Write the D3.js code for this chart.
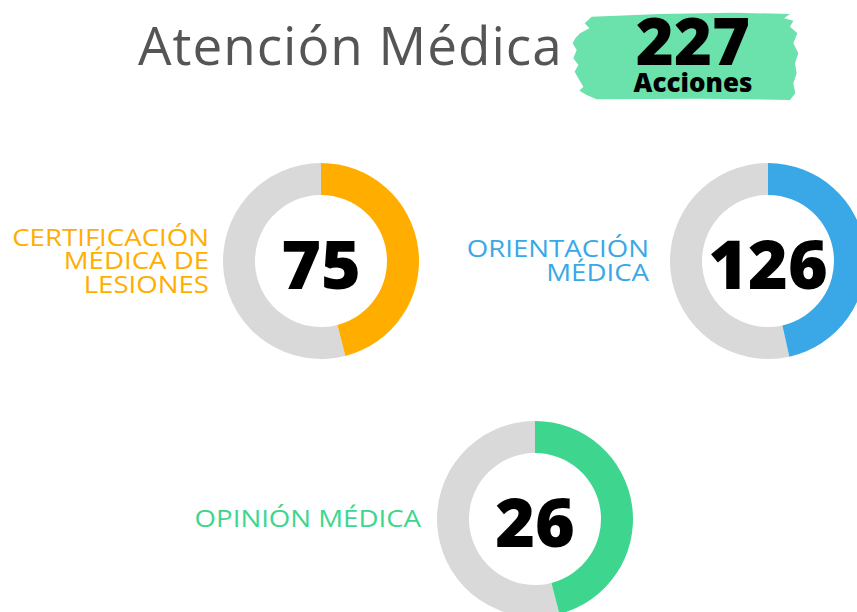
<!DOCTYPE html>
<html>
<head>
<meta charset="utf-8">
<script src="https://cdn.jsdelivr.net/npm/d3@7"></script>
<style>
  body { margin: 0; background: #fff; }
  svg { display: block; font-family: 'Open Sans', sans-serif; }
</style>
</head>
<body>
<div class="chart"></div>
<script>
// Atención Médica - donut summary

const TITLE = 'Atención Médica'
const TOTAL = 227
const TOTAL_LABEL = 'Acciones'

// one entry per donut
const NAMES = [
    ['CERTIFICACIÓN', 'MÉDICA DE', 'LESIONES'],
    ['ORIENTACIÓN', 'MÉDICA'],
    ['OPINIÓN MÉDICA'],
]
const VALUES = [75, 126, 26]
const FILLED = [0.46, 0.465, 0.46]   // share of ring painted
const COLORS = ['#FFAE00', '#3AA8E6', '#3ED68F']

// layout (not data)
const CENTERS = [[321, 261], [768, 261], [535, 519]]
const LABEL_DX = [-112, -119, -114]
const OUTER = 98
const INNER = 66

var svgWidth = 857
var svgHeight = 612

var svg = d3.select('.chart')
    .append('svg')
    .attr('width', svgWidth)
    .attr('height', svgHeight)

// Title
svg.append('text')
    .attr('x', 138)
    .attr('y', 65)
    .attr('font-size', '53px')
    .attr('letter-spacing', '1px')
    .attr('fill', '#555555')
    .text(TITLE)

// Badge with brush stroke
var badge = svg.append('g').attr('transform', 'translate(560, 0)')
var brush = [
    [95, 50], [300, 42], [520, 38], [690, 42], [672, 55], [700, 62], [690, 80],
    [712, 100], [700, 130], [715, 160], [705, 190], [710, 220], [700, 250],
    [706, 280], [690, 300], [420, 296], [110, 298], [80, 285], [58, 272],
    [70, 260], [58, 240], [44, 215], [55, 195], [40, 175], [50, 150],
    [38, 130], [46, 115], [60, 100], [88, 85], [74, 70]
].map(p => [p[0] / 3, p[1] / 3])

badge.append('path')
    .attr('d', d3.line().curve(d3.curveLinearClosed)(brush))
    .attr('fill', '#6BE1AC')

badge.append('text')
    .attr('x', 133)
    .attr('y', 65)
    .attr('text-anchor', 'middle')
    .attr('font-size', '65px')
    .attr('font-weight', 800)
    .attr('fill', '#000')
    .text(TOTAL)

badge.append('text')
    .attr('x', 133)
    .attr('y', 92)
    .attr('text-anchor', 'middle')
    .attr('font-size', '26px')
    .attr('font-weight', 800)
    .attr('fill', '#000')
    .text(TOTAL_LABEL)

// Donuts
var angle = d3.scaleLinear().domain([0, 1]).range([0, 2 * Math.PI])
var arc = d3.arc().innerRadius(INNER).outerRadius(OUTER)

VALUES.forEach((v, i) => {
    var g = svg.append('g')
        .attr('transform', `translate(${CENTERS[i][0]}, ${CENTERS[i][1]})`)

    g.append('path')
        .attr('d', arc({ startAngle: angle(FILLED[i]), endAngle: angle(1) }))
        .attr('fill', '#D9D9D9')

    g.append('path')
        .attr('d', arc({ startAngle: angle(0), endAngle: angle(FILLED[i]) }))
        .attr('fill', COLORS[i])

    g.append('text')
        .attr('x', 0)
        .attr('y', 28)
        .attr('text-anchor', 'middle')
        .attr('font-size', '68px')
        .attr('font-weight', 800)
        .attr('fill', '#000')
        .text(v)

    // labels are drawn a bit wider than the normal face
    var lines = NAMES[i]
    lines.forEach((line, j) => {
        var y = (j - (lines.length - 1) / 2) * 23.5 + 8
        g.append('text')
            .attr('transform', `translate(${LABEL_DX[i]}, ${y}) scale(1.15, 1)`)
            .attr('text-anchor', 'end')
            .attr('font-size', '24px')
            .attr('fill', COLORS[i])
            .text(line)
    })
})
</script>
</body>
</html>
